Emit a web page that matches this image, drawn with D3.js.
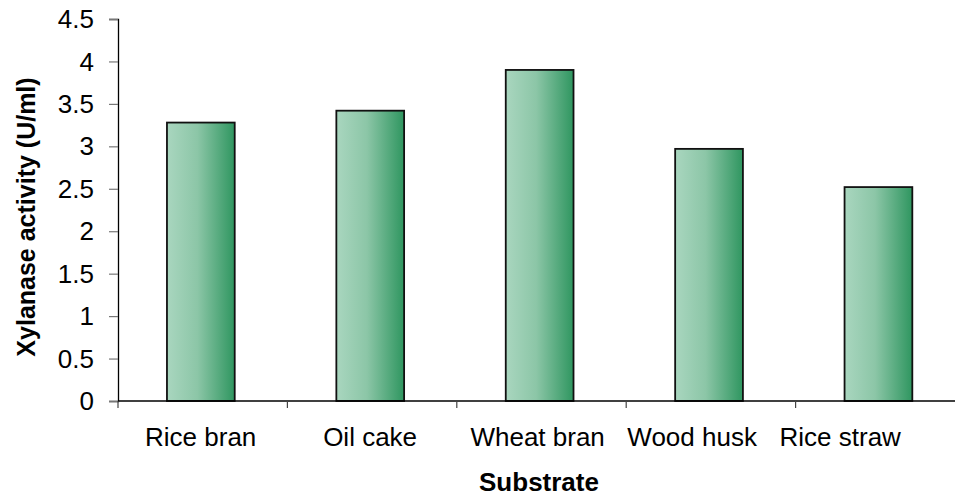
<!DOCTYPE html>
<html>
<head>
<meta charset="utf-8">
<script src="https://cdn.jsdelivr.net/npm/d3@7"></script>
<style>
  html, body { margin: 0; padding: 0; background: #fff; overflow: hidden; }
  svg { display: block; font-family: "Liberation Sans", Arial, Helvetica, sans-serif; }
</style>
</head>
<body>
<svg id="chart" width="955" height="496"></svg>
<script>
// ---- data ----
const categories = ["Rice bran", "Oil cake", "Wheat bran", "Wood husk", "Rice straw"];
const activity = [3.28, 3.42, 3.90, 2.97, 2.52];
const yTicks = [0, 0.5, 1, 1.5, 2, 2.5, 3, 3.5, 4, 4.5];
const xTitle = "Substrate";
const yTitle = "Xylanase activity (U/ml)";

// ---- layout ----
const W = 955, H = 496;
const plotLeft = 118, plotRight = 965, plotTop = 19, plotBottom = 401;
const labelRightLimit = 901, labelGap = 22;

const svg = d3.select("#chart");

const x = d3.scaleBand().domain(categories).range([plotLeft, plotRight]).padding(0);
const y = d3.scaleLinear().domain([0, 4.5]).range([plotBottom, plotTop]);

// gradient
const defs = svg.append("defs");
const grad = defs.append("linearGradient").attr("id", "barGrad")
  .attr("x1", "0%").attr("x2", "100%").attr("y1", "0%").attr("y2", "0%");
grad.append("stop").attr("offset", "0%").attr("stop-color", "#a9d6bf");
grad.append("stop").attr("offset", "45%").attr("stop-color", "#8cc6a7");
grad.append("stop").attr("offset", "100%").attr("stop-color", "#2f9660");

// bars
const bw = x.bandwidth();
svg.append("g").selectAll("rect").data(categories).join("rect")
  .attr("x", d => x(d) + bw * 0.289)
  .attr("width", bw * 0.4)
  .attr("y", (d, i) => y(activity[i]))
  .attr("height", (d, i) => y(0) - y(activity[i]))
  .attr("fill", "url(#barGrad)")
  .attr("stroke", "#111")
  .attr("stroke-width", 1.8);

// y axis
const yAxis = svg.append("g").attr("transform", `translate(${plotLeft},0)`)
  .call(d3.axisLeft(y).tickValues(yTicks).tickFormat(d => String(d)).tickSize(9).tickPadding(15));
yAxis.select(".domain").attr("stroke", "#000").attr("stroke-width", 1.3);
yAxis.selectAll(".tick line").attr("stroke", "#777").attr("stroke-width", 1.2);
yAxis.selectAll(".tick text").attr("font-size", 26).attr("fill", "#000")
  .attr("font-family", "'Liberation Sans', Arial, sans-serif").attr("dy", "0.33em");

// x axis line + boundary ticks
const xg = svg.append("g");
xg.append("line").attr("x1", plotLeft).attr("x2", plotRight)
  .attr("y1", plotBottom).attr("y2", plotBottom)
  .attr("stroke", "#000").attr("stroke-width", 1.3);
const bounds = categories.map(c => x(c)).concat([x.range()[1]]);
xg.selectAll("line.tk").data(bounds).join("line").attr("class", "tk")
  .attr("x1", d => d).attr("x2", d => d)
  .attr("y1", plotBottom).attr("y2", plotBottom + 7)
  .attr("stroke", "#444").attr("stroke-width", 1.2);

// x labels with overlap avoidance (like the spreadsheet app)
const labels = xg.selectAll("text.xl").data(categories).join("text").attr("class", "xl")
  .attr("x", d => x(d) + bw / 2 - 2)
  .attr("y", plotBottom + 45)
  .attr("text-anchor", "middle")
  .attr("font-size", 26)
  .attr("fill", "#000")
  .text(d => d);
const nodes = labels.nodes();
const info = nodes.map(n => { const b = n.getBBox(); return { n, cx: b.x + b.width / 2, w: b.width }; });
let limit = labelRightLimit;
for (let i = info.length - 1; i >= 0; i--) {
  const it = info[i];
  if (it.cx + it.w / 2 > limit) it.cx = limit - it.w / 2;
  limit = it.cx - it.w / 2 - labelGap;
  d3.select(it.n).attr("x", it.cx);
}

// titles
svg.append("text")
  .attr("x", 539).attr("y", 491)
  .attr("text-anchor", "middle")
  .attr("font-size", 26).attr("font-weight", "bold").attr("fill", "#000")
  .text(xTitle);

svg.append("text")
  .attr("transform", "translate(35,217) rotate(-90)")
  .attr("text-anchor", "middle")
  .attr("font-size", 25).attr("font-weight", "bold").attr("fill", "#000")
  .text(yTitle);
</script>
</body>
</html>
